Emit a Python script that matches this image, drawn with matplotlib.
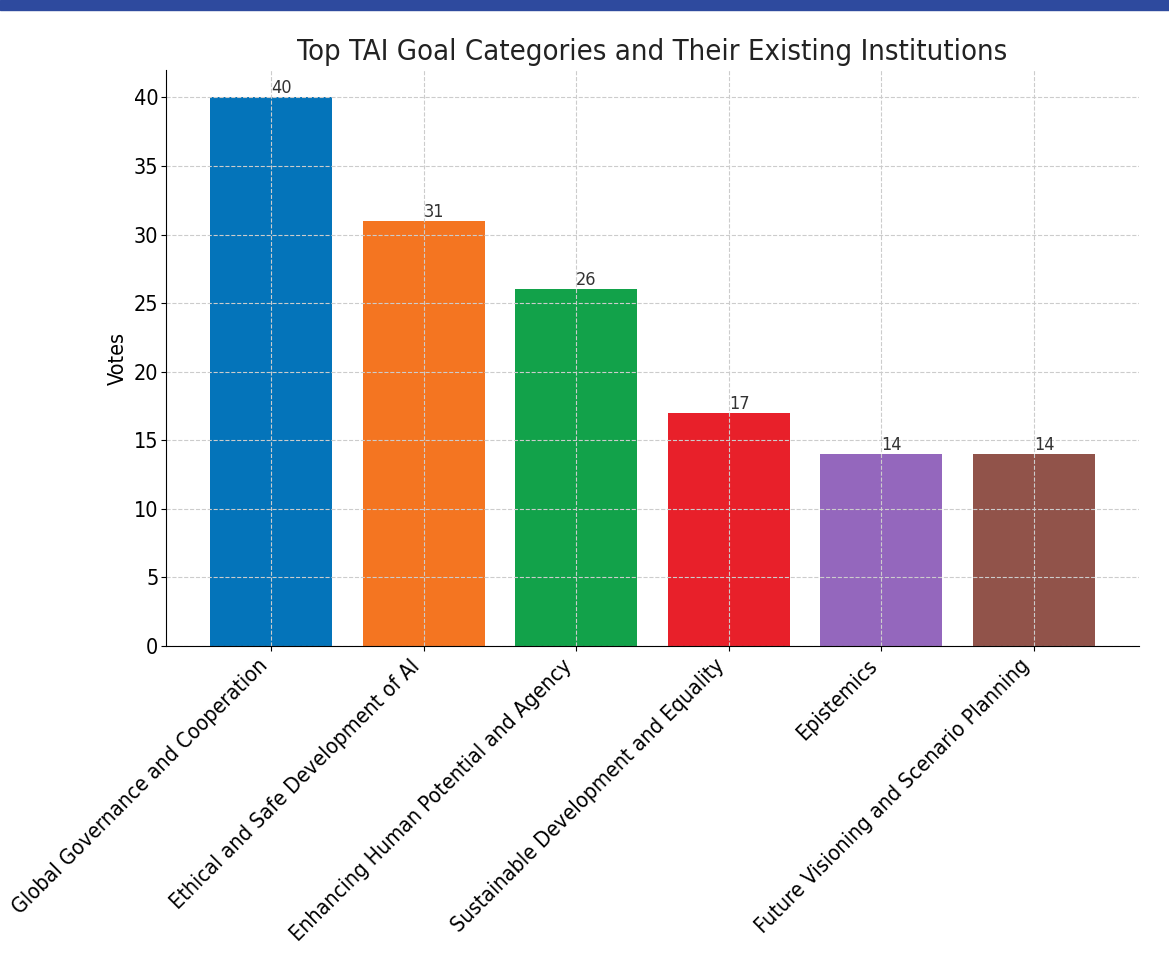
import matplotlib.pyplot as plt
from matplotlib.patches import Rectangle

categories = ["Global Governance and Cooperation",
              "Ethical and Safe Development of AI",
              "Enhancing Human Potential and Agency",
              "Sustainable Development and Equality",
              "Epistemics",
              "Future Visioning and Scenario Planning"]
votes = [40, 31, 26, 17, 14, 14]
colors = ['#0474BA', '#F47521', '#12A24A', '#E8202A', '#9467BD', '#91534A']

plt.rcParams['font.stretch'] = 'condensed'

fig = plt.figure(figsize=(11.69, 9.58), dpi=100)
ax = fig.add_axes([166/1169, 1-646/958, (1139-166)/1169, (646-70)/958])

bars = ax.bar(categories, votes, color=colors, width=0.8)
for b, v in zip(bars, votes):
    ax.text(b.get_x() + b.get_width()/2, v, str(v), ha='left', va='bottom',
            fontsize=13, color='#333333')

ax.set_title("Top TAI Goal Categories and Their Existing Institutions", fontsize=21, pad=7, color='#222222')
ax.set_ylabel("Votes", fontsize=15.5)
ax.tick_params(axis='both', labelsize=15.5)
ax.tick_params(axis='y', pad=2)
plt.setp(ax.get_xticklabels(), rotation=45, ha='right')
ax.grid(True, linestyle='--', color='#cccccc', linewidth=0.8)
ax.spines['top'].set_visible(False)
ax.spines['right'].set_visible(False)

fig.patches.append(Rectangle((0, 1-10/958), 1, 10/958, transform=fig.transFigure,
                             color='#2E4A9E', zorder=10))

fig.savefig('out.png', dpi=100)
